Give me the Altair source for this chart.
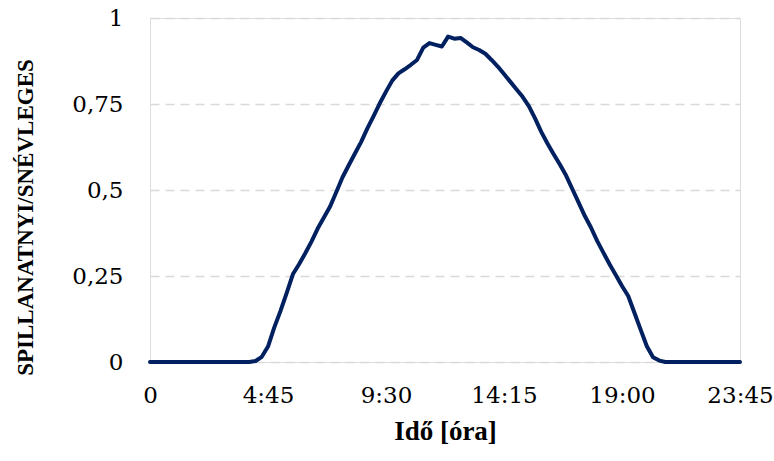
import altair as alt
import pandas as pd

# quarter-hour index (0 = 0:00, 95 = 23:45)
slot = list(range(96))
ratio = [
    0, 0, 0, 0, 0, 0, 0, 0, 0, 0, 0, 0, 0, 0, 0, 0, 0,
    0.003, 0.015, 0.045, 0.10, 0.148, 0.20, 0.255, 0.284, 0.316, 0.35,
    0.388, 0.42, 0.452, 0.494, 0.537, 0.572, 0.606, 0.64, 0.679, 0.715,
    0.752, 0.786, 0.818, 0.839, 0.851, 0.864, 0.878, 0.914, 0.927, 0.922,
    0.917, 0.946, 0.94, 0.942, 0.929, 0.915, 0.907, 0.896, 0.878, 0.859,
    0.837, 0.815, 0.793, 0.771, 0.744, 0.708, 0.669, 0.635, 0.604, 0.574,
    0.542, 0.503, 0.464, 0.425, 0.391, 0.352, 0.318, 0.284, 0.253, 0.221,
    0.192, 0.143, 0.094, 0.046, 0.014, 0.004,
    0, 0, 0, 0, 0, 0, 0, 0, 0, 0, 0, 0, 0,
]
x_tick_values = [0, 19, 38, 57, 76, 95]
x_tick_labels = ["0", "4:45", "9:30", "14:15", "19:00", "23:45"]
y_tick_values = [0, 0.25, 0.5, 0.75, 1]

df = pd.DataFrame({"slot": slot, "ratio": ratio})

label_expr = "''"
for v, lab in reversed(list(zip(x_tick_values, x_tick_labels))):
    label_expr = f"datum.value == {v} ? '{lab}' : ({label_expr})"

tick_font = "DejaVu Serif"
title_font = "Liberation Serif"

chart = (
    alt.Chart(df)
    .mark_line(color="#002060", strokeWidth=4, strokeJoin="round", strokeCap="round")
    .encode(
        x=alt.X(
            "slot:Q",
            scale=alt.Scale(domain=[0, 95], nice=False, zero=False),
            axis=alt.Axis(
                values=x_tick_values,
                labelExpr=label_expr,
                title="Idő [óra]",
                grid=False,
                ticks=False,
                domain=False,
                labelFont=tick_font,
                labelFontSize=23,
                labelColor="#000000",
                labelPadding=22,
                labelFlush=False,
                labelOverlap=False,
                titleFont=title_font,
                titleFontSize=27,
                titleFontWeight="bold",
                titleColor="#000000",
                titlePadding=11,
            ),
        ),
        y=alt.Y(
            "ratio:Q",
            scale=alt.Scale(domain=[0, 1], nice=False),
            axis=alt.Axis(
                values=y_tick_values,
                labelExpr="replace(toString(datum.value), '.', ',')",
                title="SPILLANATNYI/SNÉVLEGES",
                grid=True,
                gridColor="#d9d9d9",
                gridDash=[9, 6],
                gridWidth=1.5,
                ticks=False,
                domain=False,
                labelFont=tick_font,
                labelFontSize=23,
                labelColor="#000000",
                labelPadding=27,
                labelBaseline="middle",
                labelFlush=False,
                labelOverlap=False,
                titleFont=title_font,
                titleFontSize=23,
                titleFontWeight="bold",
                titleColor="#000000",
                titlePadding=34,
                titleY=199,
            ),
        ),
    )
    .properties(
        width=590,
        height=344,
        autosize=alt.AutoSizeParams(type="none"),
        padding={"left": 150, "top": 18, "right": 34, "bottom": 99},
    )
    .configure_view(stroke="#b0b0b0", strokeWidth=1.5)
    .configure(background="white")
)

chart.save("out.html", embed_options={"renderer": "svg", "actions": False})
